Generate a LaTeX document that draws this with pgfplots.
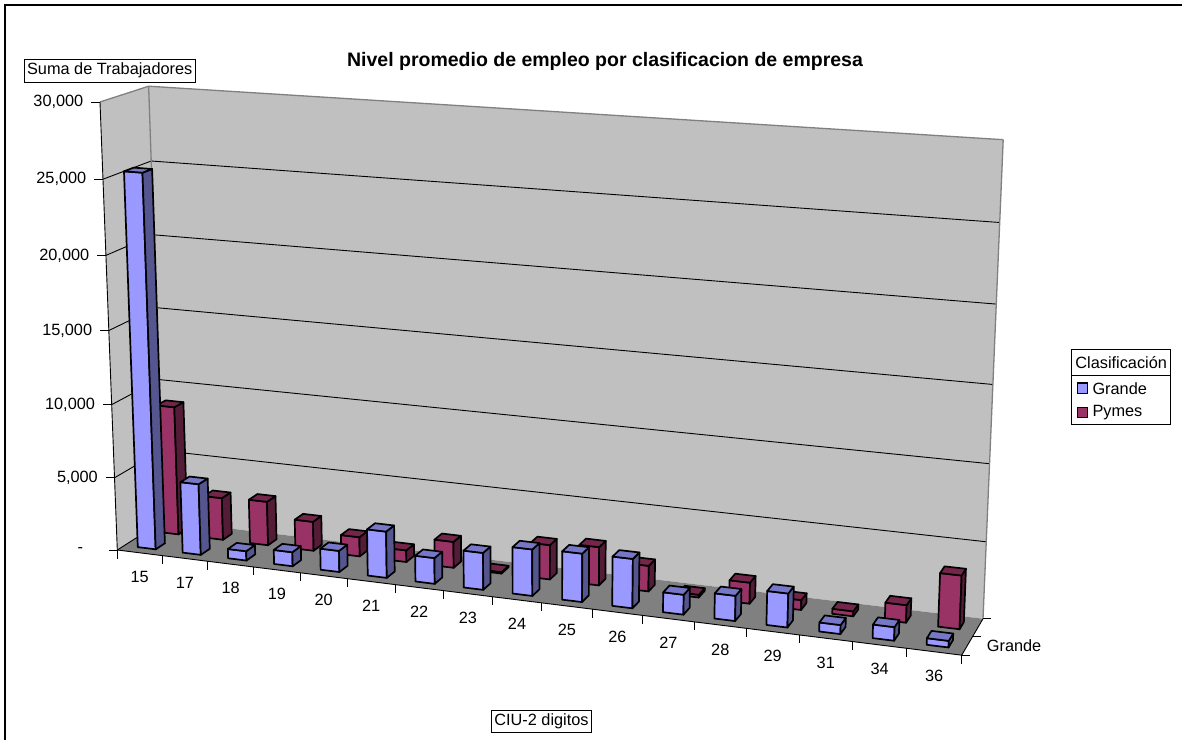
\documentclass[border=0pt]{standalone}
\usepackage{fontspec}
\setmainfont{Liberation Sans}
\usepackage{pgfplots}
\usepackage{pgfplotstable}
\pgfplotsset{compat=1.18}

% Average employment by CIIU division and firm class
\pgfplotstableread{
ciu grande pymes
15 25400 8900
17 4870 2920
18 640 3030
19 960 2010
20 1440 1320
21 3130 800
22 1735 1770
23 2470 100
24 3090 2320
25 3200 2570
26 3245 1710
27 1300 180
28 1640 1390
29 2200 650
31 580 325
34 870 1140
36 420 3460
}\empleo

\definecolor{wall}{HTML}{C0C0C0}
\definecolor{floorc}{HTML}{808080}
\definecolor{edgec}{HTML}{808080}
\definecolor{gfront}{HTML}{9999FF}
\definecolor{gside}{HTML}{55558F}
\definecolor{gtop}{HTML}{7777C8}
\definecolor{pfront}{HTML}{993366}
\definecolor{pside}{HTML}{551C38}
\definecolor{ptop}{HTML}{732649}

% Perspective projection of the unit box (u along categories, v in depth, w up)
\newcommand\proj[3]{%
  \pgfmathsetmacro\pw{1-0.101*(#1)+0.033*(#2)-0.04*(#3)}%
  \pgfmathsetmacro\px{(117.3+747.3*(#1)+51.6*(#2)-21.3*(#3))/\pw}%
  \pgfmathsetmacro\py{(550+39*(#1)-12.3*(#2)-452.1*(#3))/\pw}%
}
% \pt{u}{v}{w}{name} stores the projected point as "(x,y)" in \name
\newcommand\pt[4]{\proj{#1}{#2}{#3}\edef#4{(\px,\py)}}
\newcommand\face[6]{% style, then four corners
  \edef\tmp{\noexpand\addplot[#1] coordinates {#2 #3 #4 #5} -- cycle;}\tmp}
\newcommand\seg[3]{% style, two points
  \edef\tmp{\noexpand\addplot[#1] coordinates {#2 #3};}\tmp}
% share of the 30,000 value range, worked out in floating point
\newcommand\share[2]{%
  {\pgfkeys{/pgf/fpu=true,/pgf/fpu/output format=fixed}%
   \pgfmathparse{#2/30000}\global\let\sharetmp\pgfmathresult}%
  \let#1\sharetmp}

% One column: category index, front depth, value, three face colours
\newcommand\column[6]{%
  \pgfmathsetmacro\ua{(#1+0.3)/17}%
  \pgfmathsetmacro\ub{(#1+0.7)/17}%
  \pgfmathsetmacro\vb{#2+0.2}%
  \share\ww{#3}%
  \pt{\ua}{#2}{0}\pa \pt{\ub}{#2}{0}\pb \pt{\ub}{#2}{\ww}\pc \pt{\ua}{#2}{\ww}\pd
  \pt{\ub}{\vb}{0}\pe \pt{\ub}{\vb}{\ww}\pf \pt{\ua}{\vb}{\ww}\pg
  \face{colbar,fill=#4}{\pa}{\pb}{\pc}{\pd}{}%
  \face{colbar,fill=#5}{\pb}{\pe}{\pf}{\pc}{}%
  \face{colbar,fill=#6}{\pd}{\pc}{\pf}{\pg}{}%
}

\begin{document}
\begin{tikzpicture}[x=1pt,y=1pt,
  colbar/.style={draw=black,line width=1.7pt,line join=round},
  thin line/.style={draw=black,line width=0.9pt},
  gray line/.style={draw=edgec,line width=1.3pt},
  lbl/.style={font=\fontsize{16.3}{18}\selectfont,inner sep=0pt},
  box/.style={draw=black,fill=white,line width=0.7pt,inner sep=0pt,
    font=\fontsize{16.3}{18}\selectfont,anchor=center},
]
\useasboundingbox (0,0) rectangle (1182,740);
\begin{axis}[
  at={(0,0)},anchor=south west,scale only axis,width=1182pt,height=740pt,
  xmin=0,xmax=1182,ymin=0,ymax=740,y dir=reverse,hide axis,clip=false,
]
% outer frame, top and left sides
\addplot[draw=black,line width=2.5pt] coordinates {(1182,5) (5,5) (5,740)};

% walls and floor
\pt{0}{0}{0}\cO \pt{1}{0}{0}\cU \pt{0}{1}{0}\cV \pt{1}{1}{0}\cUV
\pt{0}{0}{1}\cW \pt{0}{1}{1}\cVW \pt{1}{1}{1}\cT
\face{fill=wall,draw=none}{\cO}{\cV}{\cVW}{\cW}{}
\face{fill=wall,draw=none}{\cV}{\cUV}{\cT}{\cVW}{}
\face{fill=floorc,draw=none}{\cO}{\cU}{\cUV}{\cV}{}

% gridlines on both walls
\pgfplotsforeachungrouped \g in {5,10,15,20,25}{%
  \share\gw{\g000}%
  \pt{0}{0}{\gw}\ga \pt{0}{1}{\gw}\gb \pt{1}{1}{\gw}\gc
  \seg{thin line}{\ga}{\gb}%
  \seg{thin line}{\gb}{\gc}%
}
\seg{gray line}{\cW}{\cVW}
\seg{gray line}{\cVW}{\cT}
\seg{gray line}{\cVW}{\cV}
\seg{gray line}{\cT}{\cUV}
\seg{thin line}{\cO}{\cW}
\seg{thin line}{\cO}{\cV}
\seg{thin line}{\cO}{\cU}
\seg{thin line}{\cU}{\cUV}

% columns, back row first
\pgfplotsforeachungrouped \i in {0,...,16}{%
  \pgfplotstablegetelem{\i}{pymes}\of\empleo
  \edef\val{\pgfplotsretval}%
  \column{\i}{0.65}{\val}{pfront}{pside}{ptop}%
}
\pgfplotsforeachungrouped \i in {0,...,16}{%
  \pgfplotstablegetelem{\i}{grande}\of\empleo
  \edef\val{\pgfplotsretval}%
  \column{\i}{0.15}{\val}{gfront}{gside}{gtop}%
}

% category ticks and labels
\pgfplotsforeachungrouped \i in {0,...,17}{%
  \pgfmathsetmacro\tu{\i/17}%
  \proj{\tu}{0}{0}%
  \pgfmathsetmacro\ye{\py+8.5}%
  \edef\tmp{\noexpand\addplot[thin line] coordinates {(\px,\py) (\px,\ye)};}\tmp
}
\pgfplotsforeachungrouped \i in {0,...,16}{%
  \pgfplotstablegetelem{\i}{ciu}\of\empleo
  \edef\cat{\pgfplotsretval}%
  \pgfmathsetmacro\tu{(\i+0.5)/17}%
  \proj{\tu}{0}{0}%
  \pgfmathsetmacro\ye{\py+24.3}%
  \edef\tmp{\noexpand\node[lbl] at (axis cs:\px,\ye) {\cat};}\tmp
}

% value ticks and labels
\pgfplotsforeachungrouped \g in {5,10,15,20,25,30}{%
  \share\gw{\g000}%
  \proj{0}{0}{\gw}%
  \pgfmathsetmacro\xs{\px-8.5}\pgfmathsetmacro\xl{\px-16.5}%
  \edef\tmp{\noexpand\addplot[thin line] coordinates {(\xs,\py) (\px,\py)};}\tmp
  \edef\tmp{\noexpand\node[lbl,anchor=east] at (axis cs:\xl,\py) {\g,000};}\tmp
}
\addplot[thin line] coordinates {(108.8,550) (117.3,550)};
\node[lbl,anchor=east] at (axis cs:83.3,550) {-};

% depth ticks and label
\pgfplotsforeachungrouped \d in {0,0.5,1}{%
  \proj{0.9999}{\d}{0}%
  \pgfmathsetmacro\xs{\px+8.5}%
  \edef\tmp{\noexpand\addplot[thin line] coordinates {(\px,\py) (\xs,\py)};}\tmp
}
\node[lbl,anchor=west] at (axis cs:986.7,645.3) {Grande};

% titles
\node[font=\fontsize{19.5}{22}\selectfont\bfseries,inner sep=0pt] at (axis cs:605,61) {Nivel promedio de empleo por clasificacion de empresa};
\node[box,minimum width=170.7pt,minimum height=22.7pt] at (axis cs:109.7,70.7) {Suma de Trabajadores};
\node[box,minimum width=100.4pt,minimum height=22.7pt] at (axis cs:541.5,721.4) {CIU-2 digitos};

% legend
\node[box,minimum width=99pt,minimum height=74.3pt] at (axis cs:1121.2,386.9) {};
\addplot[draw=black,line width=0.7pt] coordinates {(1071.7,375.3) (1170.7,375.3)};
\node[lbl] at (axis cs:1121.2,363) {Clasificación};
\addplot[draw=black,line width=1.2pt,fill=gfront] coordinates {(1077.3,383) (1087.7,383) (1087.7,393.3) (1077.3,393.3)} -- cycle;
\addplot[draw=black,line width=1.2pt,fill=pfront] coordinates {(1077.3,407.3) (1087.7,407.3) (1087.7,417.7) (1077.3,417.7)} -- cycle;
\node[lbl,anchor=west] at (axis cs:1092.3,388.3) {Grande};
\node[lbl,anchor=west] at (axis cs:1092.3,412.7) {Pymes};
\end{axis}
\end{tikzpicture}
\end{document}
